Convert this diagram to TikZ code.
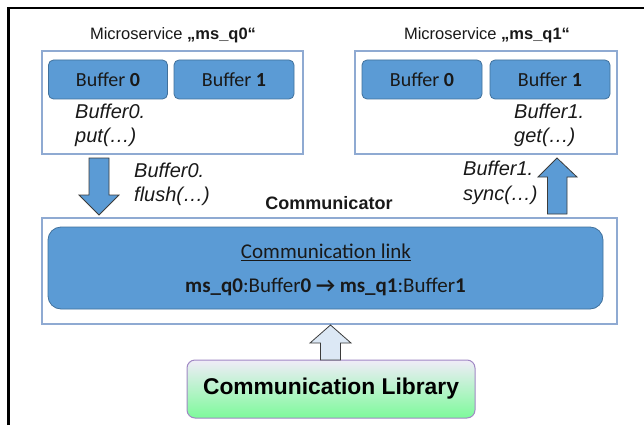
\documentclass[tikz,border=0pt]{standalone}
\usepackage{fontspec}
\setmainfont{Liberation Sans}
\newfontfamily\calfont{Carlito}
\usetikzlibrary{positioning}

\definecolor{bufblue}{RGB}{91,155,213}
\definecolor{bufedge}{RGB}{65,113,156}
\definecolor{frameedge}{RGB}{143,170,210}
\definecolor{arrowedge}{RGB}{60,60,60}
\definecolor{libtop}{RGB}{240,236,248}
\definecolor{libbottom}{RGB}{125,250,155}
\definecolor{libedge}{RGB}{160,136,196}
\definecolor{lightarrow}{RGB}{220,232,245}
\definecolor{txt}{RGB}{25,25,25}

\tikzset{
  servicebox/.style={draw=frameedge, line width=1.1pt, fill=white, inner sep=0pt},
  bufferbox/.style={draw=bufedge, line width=0.8pt, fill=bufblue, rounded corners=5pt,
    minimum width=119pt, minimum height=39pt, inner sep=0pt,
    font=\calfont\fontsize{20}{24}\selectfont, text=txt},
  title/.style={font=\fontsize{16.5}{20}\selectfont, text=txt, inner sep=0pt},
  call/.style={font=\itshape\fontsize{20}{24}\selectfont, text=txt, align=left, inner sep=0pt, anchor=west},
  blockarrow/.style={draw=arrowedge, line width=0.8pt, fill=bufblue, line join=miter},
}

\begin{document}
\begin{tikzpicture}[x=1pt, y=-1pt]
\useasboundingbox (0,0) rectangle (644,425);

% page frame (top and left edges only)
\draw[line width=2.5pt] (8.5,425) -- (8.5,8) -- (644,8);

% microservice ms_q0
\node[title] (t0) at (173,35) {Microservice \textbf{„ms\_q0“}};
\node[servicebox, minimum width=261pt, minimum height=103pt] (ms0) at (172.5,102.5) {};
\node[bufferbox] (b00) at (108,79.5) {Buffer \textbf{0}};
\node[bufferbox, minimum width=120pt] (b01) at (234,79.5) {Buffer \textbf{1}};
\node[call] (put) at (75,125) {Buffer0.\\put(…)};

% microservice ms_q1
\node[title] (t1) at (487,35) {Microservice \textbf{„ms\_q1“}};
\node[servicebox, minimum width=262pt, minimum height=103pt] (ms1) at (486,102.5) {};
\node[bufferbox, minimum width=120pt] (b10) at (422,79.5) {Buffer \textbf{0}};
\node[bufferbox, minimum width=120pt] (b11) at (550,79.5) {Buffer \textbf{1}};
\node[call] (get) at (514,125) {Buffer1.\\get(…)};

% communicator
\node[title, font=\bfseries\fontsize{18}{22}\selectfont] (comm) at (329,203.5) {Communicator};
\node[servicebox, minimum width=575pt, minimum height=106pt] (cbox) at (329.5,271) {};
\node[draw=bufedge, line width=0.8pt, fill=bufblue, rounded corners=13pt,
      minimum width=555pt, minimum height=82pt, inner sep=0pt] (link) at (325.5,268) {};
\node[font=\calfont\fontsize{21}{25}\selectfont, text=txt, inner sep=0pt] (linktitle) at (326,252)
  {\underline{Communication link}};
\node[font=\calfont\fontsize{21}{25}\selectfont, text=txt, inner sep=0pt] (route) at (325.5,287)
  {\textbf{ms\_q0}:Buffer\textbf{0 → ms\_q1}:Buffer\textbf{1}};

% flush / sync transfers
\node[call] (flush) at (134,184.5) {Buffer0.\\flush(…)};
\node[call, font=\itshape\fontsize{20}{25}\selectfont] (sync) at (463,183) {Buffer1.\\sync(…)};
\draw[blockarrow] (89,158) -- (109,158) -- (109,195) -- (119,195) -- (99,215) -- (79,195) -- (89,195) -- cycle;
\draw[blockarrow] (547.5,214) -- (567,214) -- (567,177) -- (577,177) -- (557,158) -- (538,177) -- (547.5,177) -- cycle;

% communication library
\node[draw=libedge, line width=1pt, rounded corners=8pt, top color=libtop, bottom color=libbottom,
      minimum width=288pt, minimum height=58pt, inner sep=0pt,
      font=\bfseries\fontsize{22.8}{26}\selectfont, text=black] (lib) at (331,389) {Communication Library};
\draw[blockarrow, fill=lightarrow] (320.5,360) -- (340.5,360) -- (340.5,343) -- (351,343) -- (330.5,325) -- (310,343) -- (320.5,343) -- cycle;
\end{tikzpicture}
\end{document}
